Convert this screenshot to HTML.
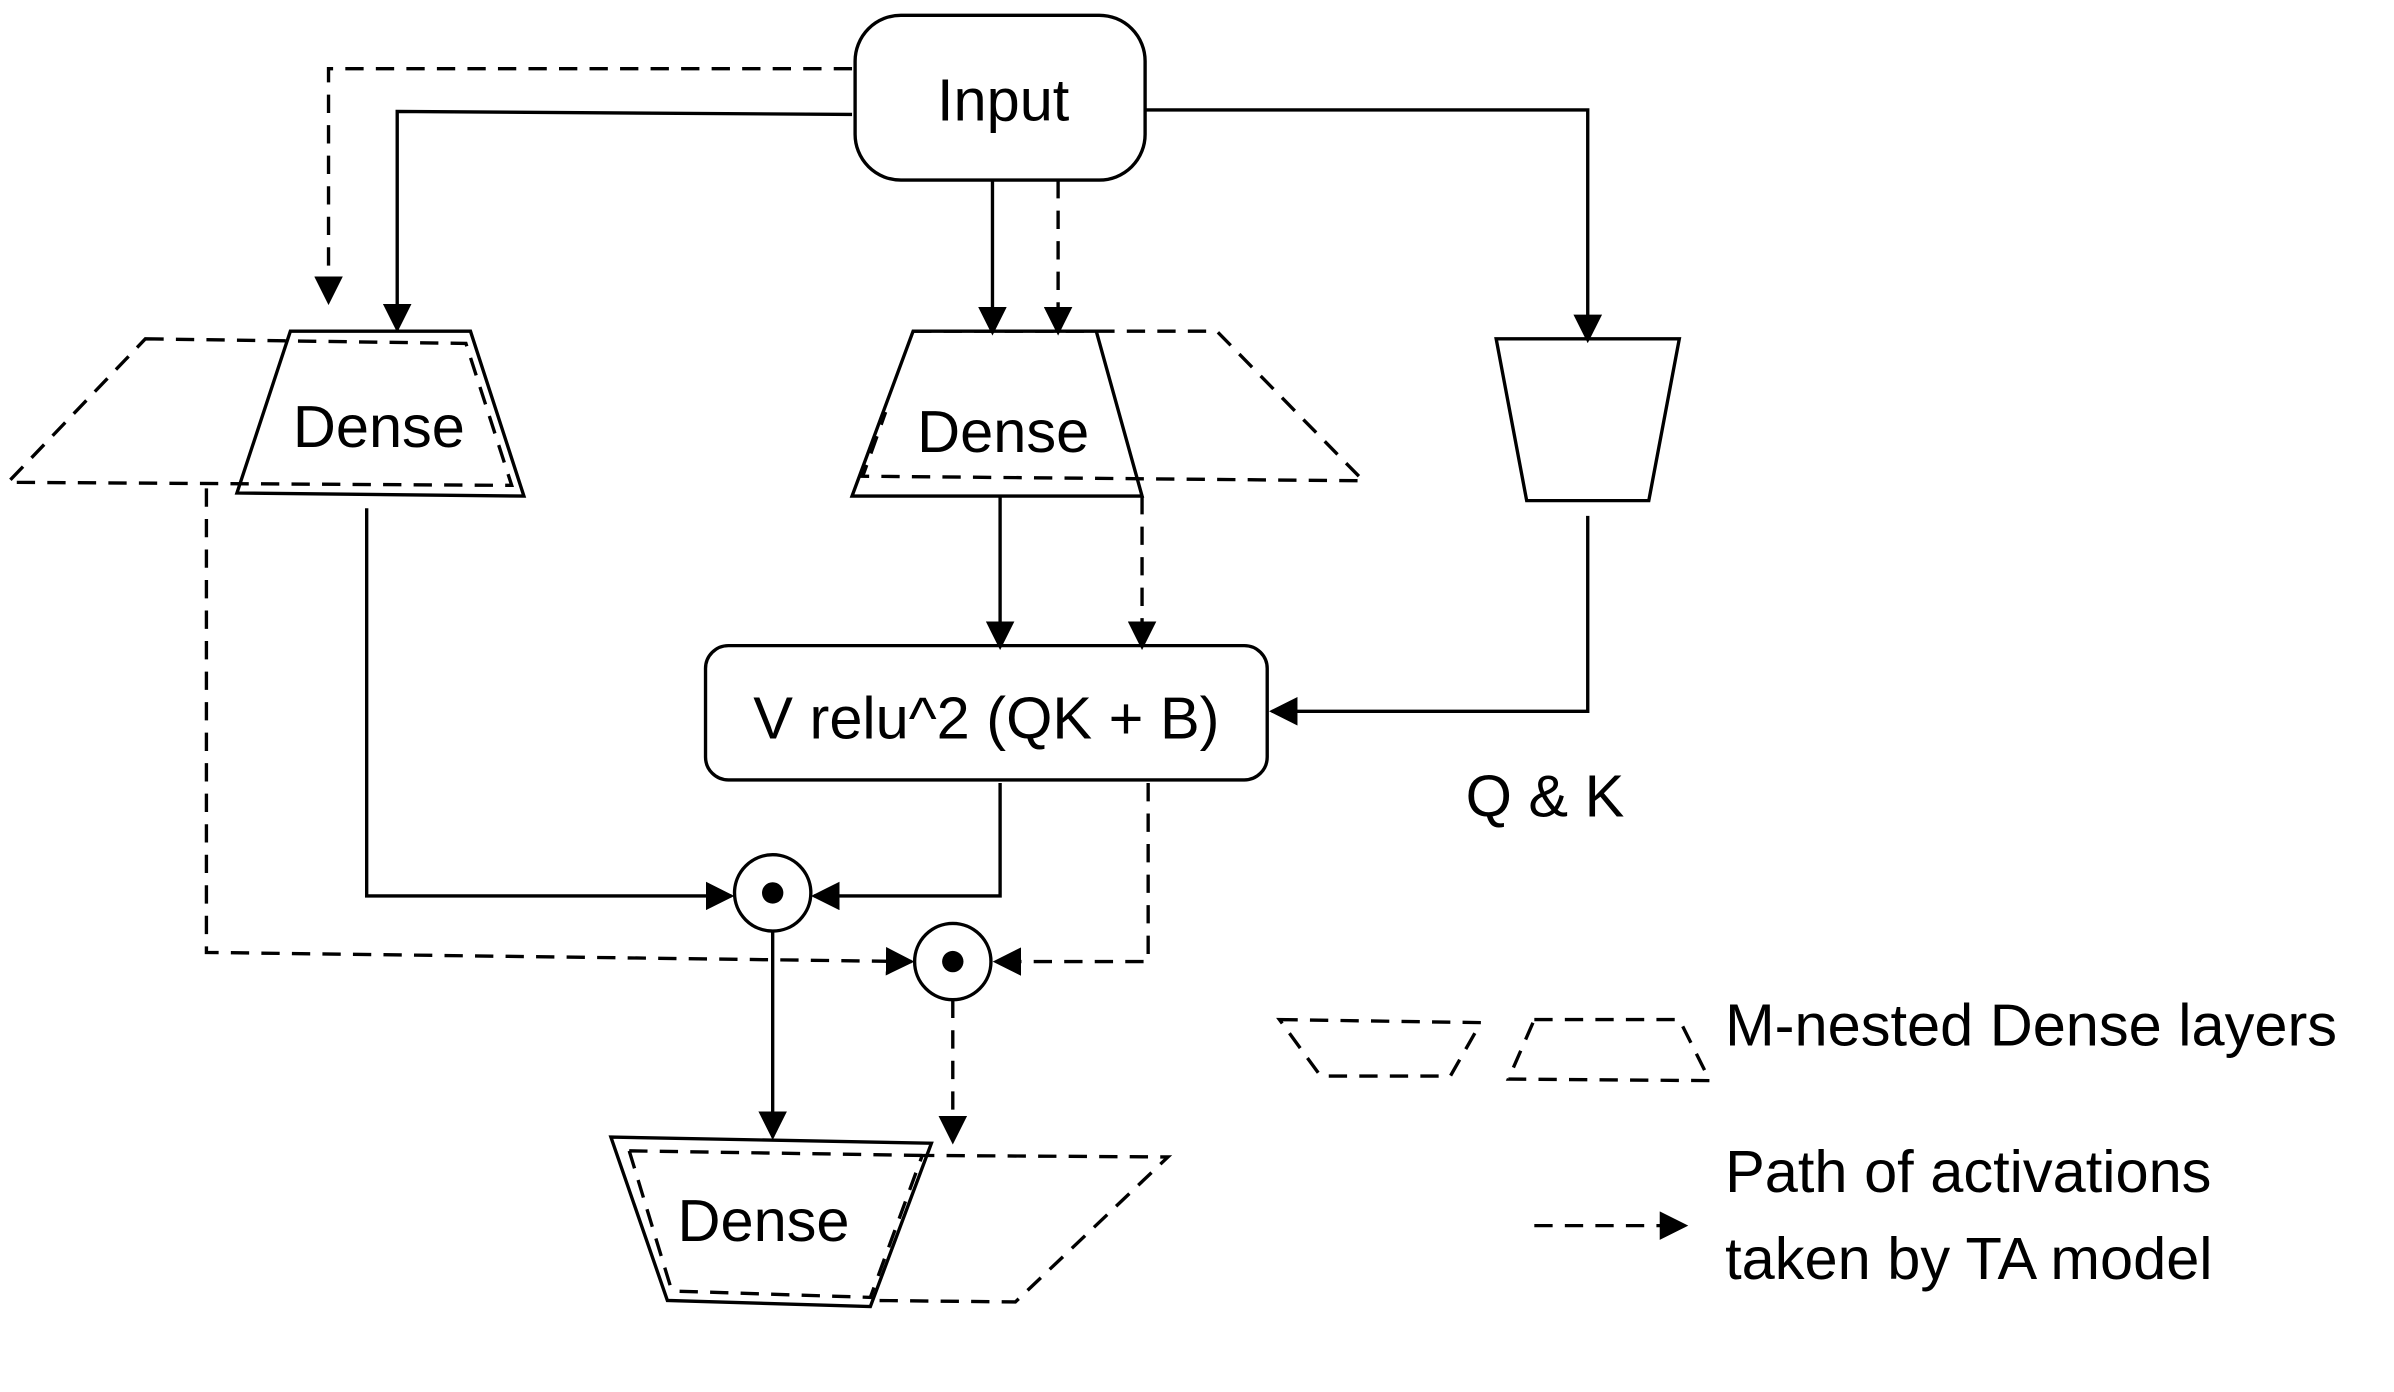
<!DOCTYPE html>
<html><head><meta charset="utf-8"><style>
html,body{margin:0;padding:0;background:#fff;width:2394px;height:1392px;overflow:hidden}
svg{display:block}
text{font-family:"Liberation Sans",Arial,sans-serif;fill:#000}
</style></head><body>
<svg width="2394" height="1392" viewBox="0 0 1568 912" xmlns="http://www.w3.org/2000/svg">
<defs>
<marker id="a" viewBox="0 0 10 10" refX="9" refY="5" markerWidth="8.5" markerHeight="8.5" orient="auto-start-reverse"><path d="M0,0 L10,5 L0,10 z" fill="#000"/></marker>
</defs>
<g fill="none" stroke="#000" stroke-width="2.2">
<rect x="560" y="10" width="190" height="108" rx="30"/>
<path d="M558,45 H215 V198" stroke-dasharray="12,8" marker-end="url(#a)"/>
<path d="M558,75 L260,73 V216" marker-end="url(#a)"/>
<path d="M650,118 V218" marker-end="url(#a)"/>
<path d="M693,118 V218" stroke-dasharray="12,8" marker-end="url(#a)"/>
<path d="M750,72 H1040 V223" marker-end="url(#a)"/>
<path d="M190,217 L308,217 L343,325 L155,323 Z"/>
<path d="M95,222 L305,225 L335,318 L5,316 Z" stroke-dasharray="12,8"/>
<path d="M598,217 L718,217 L748,325 L558,325 Z"/>
<path d="M598,217 L797,217 L893,315 L565,312 L580,270" stroke-dasharray="12,8"/>
<path d="M980,222 L1100,222 L1080,328 L1000,328 Z"/>
<path d="M655,325 V424" marker-end="url(#a)"/>
<path d="M748,325 V424" stroke-dasharray="12,8" marker-end="url(#a)"/>
<rect x="462" y="423" width="368" height="88" rx="15"/>
<path d="M1040,338 V466 H833" marker-end="url(#a)"/>
<path d="M240,333 V587 H479" marker-end="url(#a)"/>
<path d="M655,513 V587 H533" marker-end="url(#a)"/>
<circle cx="506" cy="585" r="25"/>
<path d="M135,320 V624 L597,630" stroke-dasharray="12,8" marker-end="url(#a)"/>
<path d="M752,513 V630 H652" stroke-dasharray="12,8" marker-end="url(#a)"/>
<circle cx="624" cy="630" r="25"/>
<path d="M506,610 V745" marker-end="url(#a)"/>
<path d="M624,655 V748" stroke-dasharray="12,8" marker-end="url(#a)"/>
<path d="M400,745 L610,749 L570,856 L437,852 Z"/>
<path d="M412,754 L604,757 M445,846 L570,850 L604,757 L765,758 L665,853 L570,852 M412,754 L440,846" stroke-dasharray="12,8"/>
<path d="M838,668 L970,670 L950,705 L865,705 Z" stroke-dasharray="12,8"/>
<path d="M1005,668 L1100,668 L1120,708 L988,707 Z" stroke-dasharray="12,8"/>
<path d="M1005,803 H1104" stroke-dasharray="12,8" marker-end="url(#a)"/>
</g>
<circle cx="506" cy="585" r="7" fill="#000"/>
<circle cx="624" cy="630" r="7" fill="#000"/>
<g font-size="39">
<text x="657" y="79" text-anchor="middle">Input</text>
<text x="248" y="293" text-anchor="middle">Dense</text>
<text x="657" y="296" text-anchor="middle">Dense</text>
<text x="646" y="484" text-anchor="middle">V relu^2 (QK + B)</text>
<text x="1012" y="535" text-anchor="middle">Q &amp; K</text>
<text x="500" y="813" text-anchor="middle">Dense</text>
<text x="1130" y="685">M-nested Dense layers</text>
<text x="1130" y="781">Path of activations</text>
<text x="1130" y="838">taken by TA model</text>
</g>
</svg>
</body></html>
